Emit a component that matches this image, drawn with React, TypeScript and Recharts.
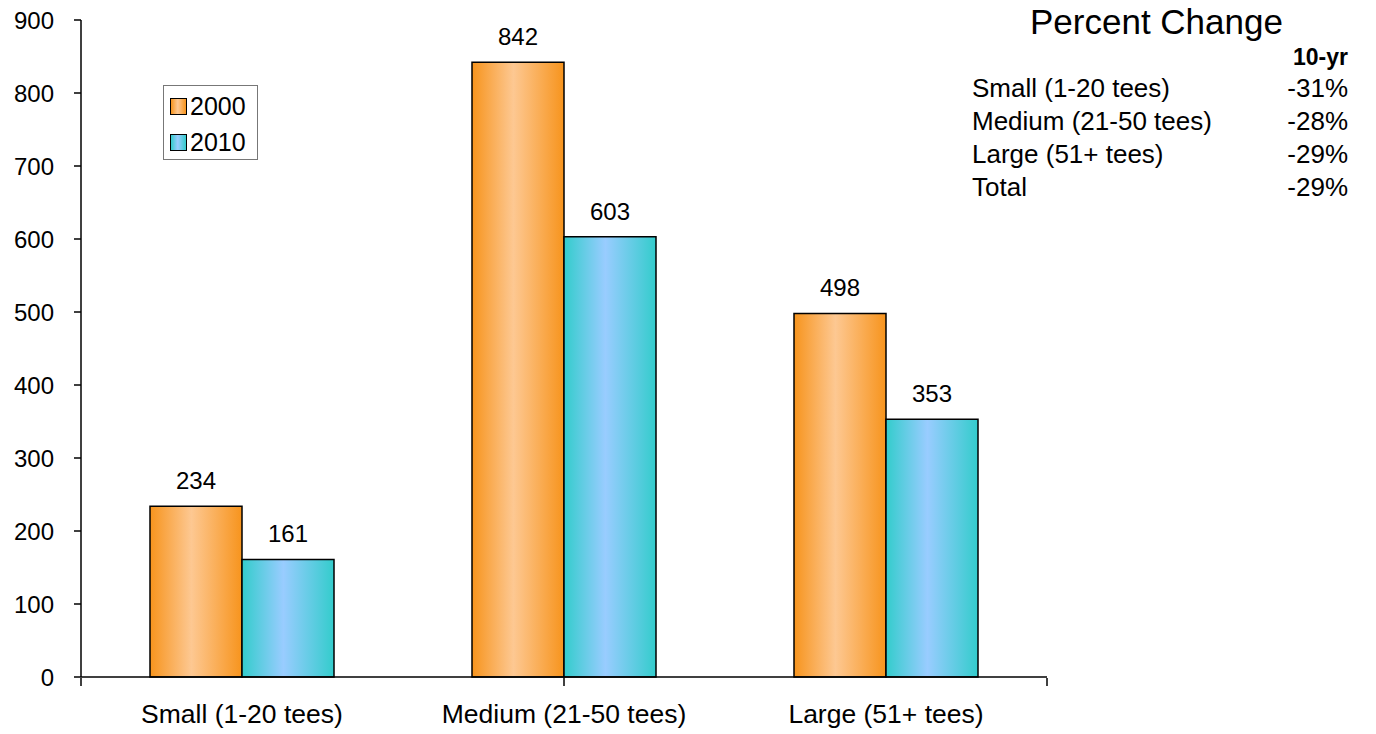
import React from 'react';
import { BarChart, Bar, XAxis, YAxis, Legend, LabelList } from 'recharts';

const categories = ['Small (1-20 tees)', 'Medium (21-50 tees)', 'Large (51+ tees)'];
const values2000 = [234, 842, 498];
const values2010 = [161, 603, 353];
const seriesNames = ['2000', '2010'];
const yTicks = [0, 100, 200, 300, 400, 500, 600, 700, 800, 900];
const edgeTicks = [0, 1, 2, 3];

const changeHeader = '10-yr';
const changeLabels = ['Small (1-20 tees)', 'Medium (21-50 tees)', 'Large (51+ tees)', 'Total'];
const changeValues = ['-31%', '-28%', '-29%', '-29%'];

const FONT = 'Arial, "Liberation Sans", sans-serif';

const chartData = categories.map((name, i) => ({
  name,
  y2000: values2000[i],
  y2010: values2010[i],
}));

const swatches = ['url(#orangeFill)', 'url(#blueFill)'];
const swatchCss = [
  'linear-gradient(90deg, #f7941d, #fdc892 45%, #f7941d)',
  'linear-gradient(90deg, #33cccc, #99ccff 45%, #33cccc)',
];

function LegendBox() {
  return (
    <div
      style={{
        border: '1px solid #777',
        background: '#fff',
        width: 95,
        height: 75,
        boxSizing: 'border-box',
        padding: '2px 0 0 6px',
        fontFamily: FONT,
        fontSize: 25,
        color: '#000',
      }}
    >
      {seriesNames.map((n, i) => (
        <div key={n} style={{ display: 'flex', alignItems: 'center', height: 36 }}>
          <span
            style={{
              width: 15,
              height: 15,
              border: '1px solid #000',
              background: swatchCss[i],
              marginRight: 3,
              display: 'inline-block',
            }}
          />
          <span>{n}</span>
        </div>
      ))}
    </div>
  );
}

function PercentTable() {
  const row = { position: 'absolute' as const, fontSize: 26, lineHeight: '33px', whiteSpace: 'nowrap' as const };
  return (
    <div style={{ position: 'absolute', left: 0, top: 0, fontFamily: FONT, color: '#000' }}>
      <div style={{ ...row, left: 1030, top: 2, fontSize: 35, lineHeight: '40px' }}>Percent Change</div>
      <div style={{ ...row, left: 1248, width: 100, top: 41, textAlign: 'right', fontWeight: 'bold', fontSize: 23 }}>
        {changeHeader}
      </div>
      {changeLabels.map((label, i) => (
        <React.Fragment key={label}>
          <div style={{ ...row, left: 972, top: 72 + i * 33 }}>{label}</div>
          <div style={{ ...row, left: 1248, width: 100, top: 72 + i * 33, textAlign: 'right' }}>
            {changeValues[i]}
          </div>
        </React.Fragment>
      ))}
    </div>
  );
}

export default function App() {
  return (
    <div style={{ position: 'absolute', left: 0, top: 0, width: 1376, height: 734, background: '#fff' }}>
      <BarChart
        width={1376}
        height={734}
        data={chartData}
        margin={{ top: 20, right: 329, bottom: 55, left: 0 }}
        barGap={0}
        barSize={92}
        style={{ fontFamily: FONT }}
      >
        <defs>
          <linearGradient id="orangeFill" x1="0" y1="0" x2="1" y2="0">
            <stop offset="0%" stopColor="#f7941d" />
            <stop offset="45%" stopColor="#fdc892" />
            <stop offset="100%" stopColor="#f7941d" />
          </linearGradient>
          <linearGradient id="blueFill" x1="0" y1="0" x2="1" y2="0">
            <stop offset="0%" stopColor="#33cccc" />
            <stop offset="45%" stopColor="#99ccff" />
            <stop offset="100%" stopColor="#33cccc" />
          </linearGradient>
        </defs>
        <XAxis
          dataKey="name"
          height={1}
          interval={0}
          tickLine={false}
          axisLine={{ stroke: '#000', strokeWidth: 1.5 }}
          tickSize={0}
          tickMargin={27}
          tick={{ fill: '#000', fontSize: 26.5 }}
        />
        <XAxis
          xAxisId="edge"
          type="number"
          domain={[0, 3]}
          ticks={edgeTicks}
          interval={0}
          height={1}
          axisLine={false}
          tickFormatter={() => ''}
          tickSize={8}
          tickLine={{ stroke: '#000', strokeWidth: 1.5 }}
        />
        <YAxis
          width={81}
          domain={[0, 900]}
          ticks={yTicks}
          interval={0}
          axisLine={{ stroke: '#000', strokeWidth: 1.5 }}
          tickLine={{ stroke: '#000', strokeWidth: 1.5 }}
          tickSize={7}
          tickMargin={20}
          tick={{ fill: '#000', fontSize: 24 }}
        />
        <Legend
          layout="vertical"
          align="center"
          verticalAlign="middle"
          wrapperStyle={{ left: 163, top: 85, width: 95 }}
          content={() => <LegendBox />}
        />
        <Bar dataKey="y2000" name={seriesNames[0]} fill={swatches[0]} stroke="#000" strokeWidth={1.5} isAnimationActive={false}>
          <LabelList dataKey="y2000" position="top" offset={17} fill="#000" fontSize={24} />
        </Bar>
        <Bar dataKey="y2010" name={seriesNames[1]} fill={swatches[1]} stroke="#000" strokeWidth={1.5} isAnimationActive={false}>
          <LabelList dataKey="y2010" position="top" offset={17} fill="#000" fontSize={24} />
        </Bar>
      </BarChart>
      <PercentTable />
    </div>
  );
}
